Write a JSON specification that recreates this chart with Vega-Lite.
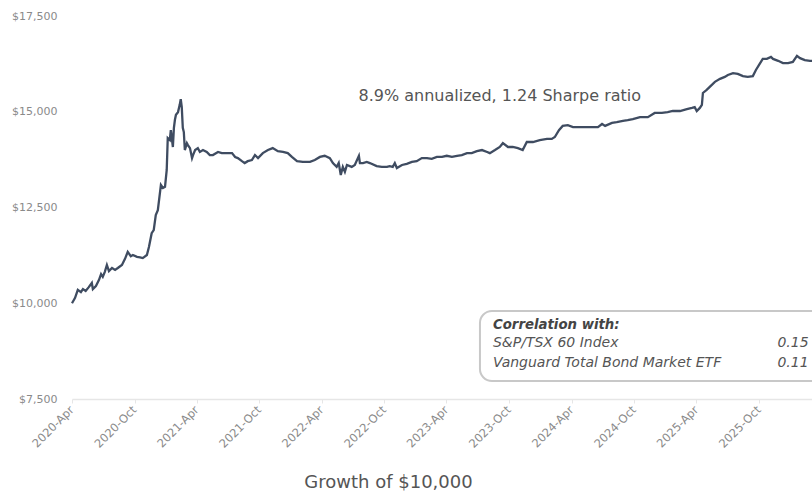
{
  "$schema": "https://vega.github.io/schema/vega-lite/v6.json",
  "width": 740,
  "height": 383,
  "autosize": "none",
  "padding": {"left": 72, "top": 16, "right": 0, "bottom": 92},
  "config": {
    "font": "DejaVu Sans",
    "view": {"stroke": null}
  },
  "layer": [
    {
      "data": {"values": [
        {"date":"2020-04-01","value":10000},{"date":"2020-04-10","value":10140},{"date":"2020-04-18","value":10350},{"date":"2020-04-27","value":10290},{"date":"2020-05-03","value":10370},{"date":"2020-05-11","value":10320},{"date":"2020-05-20","value":10420},{"date":"2020-05-29","value":10530},{"date":"2020-06-01","value":10370},{"date":"2020-06-10","value":10450},{"date":"2020-06-19","value":10610},{"date":"2020-06-25","value":10760},{"date":"2020-06-30","value":10690},{"date":"2020-07-06","value":10820},{"date":"2020-07-12","value":11000},{"date":"2020-07-18","value":10840},{"date":"2020-07-27","value":10920},{"date":"2020-08-05","value":10870},{"date":"2020-08-13","value":10920},{"date":"2020-08-25","value":11000},{"date":"2020-09-03","value":11160},{"date":"2020-09-11","value":11340},{"date":"2020-09-20","value":11230},{"date":"2020-09-26","value":11260},{"date":"2020-10-08","value":11210},{"date":"2020-10-17","value":11200},{"date":"2020-10-25","value":11180},{"date":"2020-11-06","value":11260},{"date":"2020-11-12","value":11470},{"date":"2020-11-20","value":11830},{"date":"2020-11-26","value":11910},{"date":"2020-12-02","value":12300},{"date":"2020-12-08","value":12430},{"date":"2020-12-17","value":13090},{"date":"2020-12-23","value":13010},{"date":"2020-12-29","value":13040},{"date":"2021-01-03","value":13480},{"date":"2021-01-06","value":14310},{"date":"2021-01-12","value":14260},{"date":"2021-01-15","value":14520},{"date":"2021-01-21","value":14080},{"date":"2021-01-24","value":14580},{"date":"2021-01-27","value":14790},{"date":"2021-01-30","value":14920},{"date":"2021-02-05","value":14990},{"date":"2021-02-10","value":15180},{"date":"2021-02-13","value":15330},{"date":"2021-02-16","value":15120},{"date":"2021-02-19","value":14580},{"date":"2021-02-22","value":14470},{"date":"2021-02-25","value":14000},{"date":"2021-03-03","value":14180},{"date":"2021-03-06","value":14130},{"date":"2021-03-12","value":14050},{"date":"2021-03-18","value":13790},{"date":"2021-03-21","value":13870},{"date":"2021-03-27","value":14000},{"date":"2021-04-04","value":14050},{"date":"2021-04-10","value":13950},{"date":"2021-04-19","value":14000},{"date":"2021-04-30","value":13950},{"date":"2021-05-09","value":13870},{"date":"2021-05-18","value":13870},{"date":"2021-06-02","value":13950},{"date":"2021-06-13","value":13920},{"date":"2021-06-22","value":13920},{"date":"2021-07-01","value":13920},{"date":"2021-07-13","value":13920},{"date":"2021-07-22","value":13820},{"date":"2021-07-30","value":13790},{"date":"2021-08-11","value":13710},{"date":"2021-08-19","value":13660},{"date":"2021-08-28","value":13710},{"date":"2021-09-09","value":13740},{"date":"2021-09-18","value":13870},{"date":"2021-09-27","value":13790},{"date":"2021-10-11","value":13920},{"date":"2021-10-26","value":14000},{"date":"2021-11-09","value":14050},{"date":"2021-11-24","value":13970},{"date":"2021-12-09","value":13950},{"date":"2021-12-23","value":13920},{"date":"2022-01-04","value":13820},{"date":"2022-01-19","value":13710},{"date":"2022-02-05","value":13690},{"date":"2022-02-26","value":13690},{"date":"2022-03-12","value":13740},{"date":"2022-03-27","value":13820},{"date":"2022-04-10","value":13850},{"date":"2022-04-25","value":13790},{"date":"2022-05-04","value":13660},{"date":"2022-05-15","value":13560},{"date":"2022-05-21","value":13660},{"date":"2022-05-27","value":13350},{"date":"2022-06-02","value":13560},{"date":"2022-06-08","value":13430},{"date":"2022-06-14","value":13610},{"date":"2022-06-28","value":13560},{"date":"2022-07-07","value":13610},{"date":"2022-07-19","value":13850},{"date":"2022-07-22","value":13660},{"date":"2022-07-31","value":13660},{"date":"2022-08-11","value":13690},{"date":"2022-08-20","value":13660},{"date":"2022-09-09","value":13580},{"date":"2022-09-24","value":13560},{"date":"2022-10-09","value":13560},{"date":"2022-10-17","value":13580},{"date":"2022-10-26","value":13560},{"date":"2022-11-01","value":13660},{"date":"2022-11-07","value":13530},{"date":"2022-11-22","value":13610},{"date":"2022-12-06","value":13640},{"date":"2022-12-21","value":13690},{"date":"2023-01-04","value":13710},{"date":"2023-01-19","value":13790},{"date":"2023-02-03","value":13790},{"date":"2023-02-17","value":13770},{"date":"2023-03-04","value":13820},{"date":"2023-03-19","value":13820},{"date":"2023-04-02","value":13850},{"date":"2023-04-17","value":13820},{"date":"2023-05-02","value":13850},{"date":"2023-05-16","value":13870},{"date":"2023-05-31","value":13920},{"date":"2023-06-14","value":13920},{"date":"2023-06-29","value":13970},{"date":"2023-07-14","value":14000},{"date":"2023-07-29","value":13950},{"date":"2023-08-06","value":13920},{"date":"2023-08-21","value":14000},{"date":"2023-09-04","value":14080},{"date":"2023-09-13","value":14180},{"date":"2023-09-28","value":14080},{"date":"2023-10-12","value":14080},{"date":"2023-10-27","value":14050},{"date":"2023-11-10","value":14000},{"date":"2023-11-22","value":14210},{"date":"2023-12-10","value":14210},{"date":"2023-12-30","value":14260},{"date":"2024-01-20","value":14290},{"date":"2024-02-03","value":14290},{"date":"2024-02-12","value":14340},{"date":"2024-02-24","value":14520},{"date":"2024-03-06","value":14630},{"date":"2024-03-21","value":14650},{"date":"2024-04-05","value":14600},{"date":"2024-04-25","value":14600},{"date":"2024-05-16","value":14600},{"date":"2024-06-02","value":14600},{"date":"2024-06-17","value":14600},{"date":"2024-06-29","value":14680},{"date":"2024-07-08","value":14630},{"date":"2024-07-28","value":14710},{"date":"2024-08-11","value":14730},{"date":"2024-08-29","value":14760},{"date":"2024-09-12","value":14780},{"date":"2024-09-27","value":14810},{"date":"2024-10-18","value":14860},{"date":"2024-11-10","value":14860},{"date":"2024-11-30","value":14970},{"date":"2024-12-21","value":14970},{"date":"2025-01-07","value":14990},{"date":"2025-01-22","value":15020},{"date":"2025-02-12","value":15020},{"date":"2025-03-04","value":15070},{"date":"2025-03-19","value":15100},{"date":"2025-03-27","value":15120},{"date":"2025-04-02","value":15020},{"date":"2025-04-11","value":15100},{"date":"2025-04-17","value":15180},{"date":"2025-04-20","value":15490},{"date":"2025-05-01","value":15570},{"date":"2025-05-10","value":15650},{"date":"2025-05-25","value":15780},{"date":"2025-06-09","value":15860},{"date":"2025-06-23","value":15910},{"date":"2025-07-02","value":15960},{"date":"2025-07-17","value":16010},{"date":"2025-07-31","value":15990},{"date":"2025-08-15","value":15930},{"date":"2025-08-29","value":15910},{"date":"2025-09-13","value":15930},{"date":"2025-09-22","value":16090},{"date":"2025-10-03","value":16250},{"date":"2025-10-12","value":16380},{"date":"2025-10-24","value":16380},{"date":"2025-11-05","value":16430},{"date":"2025-11-11","value":16380},{"date":"2025-11-26","value":16330},{"date":"2025-12-10","value":16270},{"date":"2025-12-25","value":16270},{"date":"2026-01-08","value":16300},{"date":"2026-01-20","value":16460},{"date":"2026-01-29","value":16400},{"date":"2026-02-12","value":16350},{"date":"2026-02-27","value":16330},{"date":"2026-03-05","value":16330}
      ]},
      "mark": {"type": "line", "color": "#3f4c61", "strokeWidth": 2.3},
      "encoding": {
        "x": {
          "field": "date", "type": "temporal",
          "scale": {"type": "utc", "domain": [{"year": 2020, "month": "apr", "date": 1, "utc": true}, {"year": 2026, "month": "mar", "date": 5, "utc": true}]},
          "axis": {
            "values": [
              {"year": 2020, "month": "apr", "date": 1, "utc": true},
              {"year": 2020, "month": "oct", "date": 1, "utc": true},
              {"year": 2021, "month": "apr", "date": 1, "utc": true},
              {"year": 2021, "month": "oct", "date": 1, "utc": true},
              {"year": 2022, "month": "apr", "date": 1, "utc": true},
              {"year": 2022, "month": "oct", "date": 1, "utc": true},
              {"year": 2023, "month": "apr", "date": 1, "utc": true},
              {"year": 2023, "month": "oct", "date": 1, "utc": true},
              {"year": 2024, "month": "apr", "date": 1, "utc": true},
              {"year": 2024, "month": "oct", "date": 1, "utc": true},
              {"year": 2025, "month": "apr", "date": 1, "utc": true},
              {"year": 2025, "month": "oct", "date": 1, "utc": true}
            ],
            "labelExpr": "utcFormat(datum.value, '%Y-%b')",
            "labelAngle": -45, "labelAlign": "right", "labelBaseline": "middle",
            "labelFontSize": 11.5, "labelColor": "#8a8a8a", "labelPadding": 5,
            "labelOverlap": false, "labelFlush": false,
            "domainColor": "#e6e6e6", "domainWidth": 1.5, "tickColor": "#e6e6e6", "tickSize": 4,
            "grid": false,
            "title": "Growth of $10,000", "titleFontSize": 18, "titleFontWeight": "normal",
            "titleColor": "#555555", "titleX": 316, "titleY": 83, "titleBaseline": "middle", "titleAlign": "center"
          }
        },
        "y": {
          "field": "value", "type": "quantitative",
          "scale": {"domain": [7500, 17500], "nice": false, "zero": false},
          "axis": {
            "values": [7500, 10000, 12500, 15000, 17500],
            "format": "$,.0f", "labelFontSize": 11, "labelColor": "#8a8a8a",
            "labelPadding": 15, "ticks": false, "domain": false, "grid": false, "title": null
          }
        }
      }
    },
    {
      "data": {"values": [{"x1": "2023-07-08", "x2": "2026-08-01", "y1": 7970, "y2": 9797}]},
      "mark": {"type": "rect", "fill": "#ffffff", "stroke": "#c8c8c8", "strokeWidth": 2, "cornerRadius": 12},
      "encoding": {
        "x": {"field": "x1", "type": "temporal"},
        "x2": {"field": "x2"},
        "y": {"field": "y1", "type": "quantitative"},
        "y2": {"field": "y2"}
      }
    },
    {
      "data": {"values": [{"date": "2023-09-04", "value": 15411, "label": "8.9% annualized, 1.24 Sharpe ratio"}]},
      "mark": {"type": "text", "fontSize": 16, "color": "#555555", "align": "center", "baseline": "middle"},
      "encoding": {
        "x": {"field": "date", "type": "temporal"},
        "y": {"field": "value", "type": "quantitative"},
        "text": {"field": "label"}
      }
    },
    {
      "data": {"values": [{"date": "2023-08-15", "value": 9432, "label": "Correlation with:"}]},
      "mark": {"type": "text", "fontSize": 13.3, "fontWeight": "bold", "fontStyle": "italic", "color": "#444444", "align": "left", "baseline": "middle"},
      "encoding": {
        "x": {"field": "date", "type": "temporal"},
        "y": {"field": "value", "type": "quantitative"},
        "text": {"field": "label"}
      }
    },
    {
      "data": {"values": [
        {"date": "2023-08-15", "value": 8962, "label": "S&P/TSX 60 Index"},
        {"date": "2023-08-15", "value": 8440, "label": "Vanguard Total Bond Market ETF"}
      ]},
      "mark": {"type": "text", "fontSize": 14, "fontStyle": "italic", "color": "#555555", "align": "left", "baseline": "middle"},
      "encoding": {
        "x": {"field": "date", "type": "temporal"},
        "y": {"field": "value", "type": "quantitative"},
        "text": {"field": "label"}
      }
    },
    {
      "data": {"values": [
        {"date": "2026-02-23", "value": 8962, "label": "0.15"},
        {"date": "2026-02-23", "value": 8440, "label": "0.11"}
      ]},
      "mark": {"type": "text", "fontSize": 14, "fontStyle": "italic", "color": "#555555", "align": "right", "baseline": "middle"},
      "encoding": {
        "x": {"field": "date", "type": "temporal"},
        "y": {"field": "value", "type": "quantitative"},
        "text": {"field": "label"}
      }
    }
  ]
}
